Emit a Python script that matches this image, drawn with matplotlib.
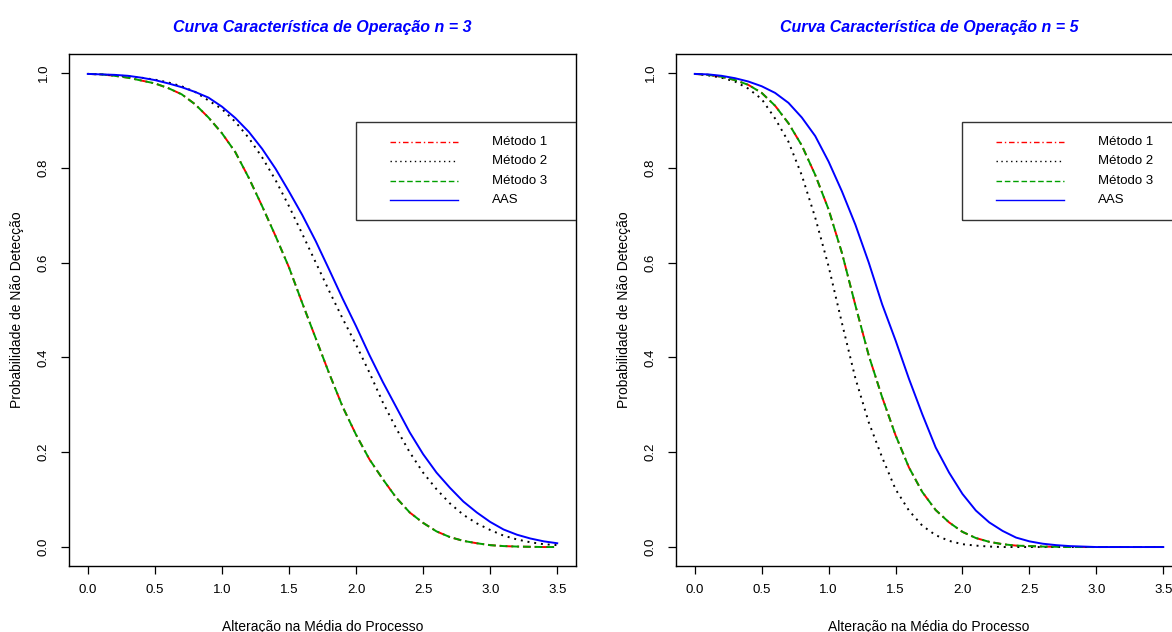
import matplotlib
matplotlib.use("Agg")
import matplotlib.pyplot as plt
from matplotlib.patches import Rectangle

plt.rcParams['font.family'] = ['Liberation Sans', 'DejaVu Sans']

# ---------------- data ----------------
x = [0.0, 0.1, 0.2, 0.3, 0.4, 0.5, 0.6, 0.7, 0.8, 0.9, 1.0, 1.1, 1.2, 1.3, 1.4, 1.5,
     1.6, 1.7, 1.8, 1.9, 2.0, 2.1, 2.2, 2.3, 2.4, 2.5, 2.6, 2.7, 2.8, 2.9, 3.0, 3.1,
     3.2, 3.3, 3.4, 3.5]

# n = 3
m1_n3 = [0.998, 0.997, 0.994, 0.990, 0.984, 0.978, 0.968, 0.955, 0.934, 0.906, 0.873, 0.833,
         0.779, 0.719, 0.656, 0.590, 0.514, 0.440, 0.366, 0.296, 0.237, 0.185, 0.143, 0.104,
         0.073, 0.051, 0.033, 0.021, 0.013, 0.008, 0.004, 0.002, 0.001, 0.0005, 0.0, 0.0]
m2_n3 = [0.998, 0.997, 0.995, 0.993, 0.990, 0.986, 0.980, 0.972, 0.960, 0.942, 0.924, 0.897,
         0.863, 0.822, 0.774, 0.719, 0.660, 0.600, 0.540, 0.482, 0.427, 0.368, 0.305, 0.250,
         0.200, 0.157, 0.122, 0.092, 0.068, 0.050, 0.036, 0.024, 0.016, 0.010, 0.006, 0.004]
m3_n3 = [0.998, 0.997, 0.994, 0.990, 0.984, 0.978, 0.968, 0.955, 0.934, 0.906, 0.873, 0.833,
         0.779, 0.719, 0.656, 0.590, 0.514, 0.440, 0.366, 0.296, 0.237, 0.185, 0.143, 0.104,
         0.073, 0.051, 0.033, 0.021, 0.013, 0.008, 0.004, 0.002, 0.001, 0.0005, 0.0, 0.0]
aas_n3 = [0.998, 0.997, 0.996, 0.994, 0.990, 0.985, 0.978, 0.970, 0.960, 0.948, 0.929, 0.905,
          0.876, 0.840, 0.798, 0.750, 0.700, 0.645, 0.585, 0.524, 0.466, 0.405, 0.348, 0.295,
          0.242, 0.196, 0.157, 0.125, 0.096, 0.073, 0.053, 0.037, 0.026, 0.018, 0.012, 0.008]

# n = 5
m1_n5 = [0.998, 0.996, 0.992, 0.985, 0.975, 0.958, 0.931, 0.894, 0.847, 0.785, 0.712, 0.620,
         0.510, 0.404, 0.316, 0.236, 0.168, 0.116, 0.078, 0.052, 0.032, 0.019, 0.011, 0.006,
         0.003, 0.002, 0.001, 0.0005, 0.0, 0.0, 0.0, 0.0, 0.0, 0.0, 0.0, 0.0]
m2_n5 = [0.998, 0.995, 0.990, 0.982, 0.967, 0.945, 0.904, 0.855, 0.784, 0.695, 0.592, 0.472,
         0.356, 0.263, 0.189, 0.122, 0.077, 0.045, 0.025, 0.013, 0.006, 0.003, 0.001, 0.0,
         0.0, 0.0, 0.0, 0.0, 0.0, 0.0, 0.0, 0.0, 0.0, 0.0, 0.0, 0.0]
m3_n5 = [0.998, 0.996, 0.992, 0.985, 0.975, 0.958, 0.931, 0.894, 0.847, 0.785, 0.712, 0.620,
         0.510, 0.404, 0.316, 0.236, 0.168, 0.116, 0.078, 0.052, 0.032, 0.019, 0.011, 0.006,
         0.003, 0.002, 0.001, 0.0005, 0.0, 0.0, 0.0, 0.0, 0.0, 0.0, 0.0, 0.0]
aas_n5 = [0.998, 0.997, 0.994, 0.989, 0.982, 0.972, 0.958, 0.937, 0.906, 0.867, 0.813, 0.750,
          0.680, 0.600, 0.512, 0.436, 0.355, 0.280, 0.210, 0.157, 0.112, 0.077, 0.052, 0.034,
          0.020, 0.012, 0.007, 0.004, 0.002, 0.001, 0.0, 0.0, 0.0, 0.0, 0.0, 0.0]

titles = ["Curva Característica de Operação n = 3", "Curva Característica de Operação n = 5"]
legend_labels = ["Método 1", "Método 2", "Método 3", "AAS"]
xticks = [0.0, 0.5, 1.0, 1.5, 2.0, 2.5, 3.0, 3.5]
yticks = [0.0, 0.2, 0.4, 0.6, 0.8, 1.0]
xlabel = "Alteração na Média do Processo"
ylabel = "Probabilidade de Não Detecção"

# ---------------- styles ----------------
colors = ['#FF0000', '#000000', '#00A000', '#0000FF']
dashes = [(4, 2, 1, 2), (1, 2.5), (4, 2), None]

W, H = 1172, 632
fig = plt.figure(figsize=(W / 100, H / 100), dpi=100)

def px_axes(l, r, t, b):
    return [l / W, (H - b) / H, (r - l) / W, (b - t) / H]

positions = [px_axes(69, 576, 54, 566), px_axes(676, 1182, 54, 566)]
data = [(m1_n3, m2_n3, m3_n3, aas_n3), (m1_n5, m2_n5, m3_n5, aas_n5)]

for k in range(2):
    ax = fig.add_axes(positions[k])
    series = data[k]
    for i in range(4):
        line, = ax.plot(x, series[i], color=colors[i], lw=1.4)
        if dashes[i] is not None:
            line.set_dashes(dashes[i])
    ax.set_xlim(-0.14, 3.64)
    ax.set_ylim(-0.04, 1.04)
    ax.set_xticks(xticks)
    ax.set_xticklabels([f"{v:.1f}" for v in xticks])
    ax.set_yticks(yticks)
    ax.set_yticklabels([f"{v:.1f}" for v in yticks], rotation=90, va='center')
    ax.tick_params(direction='out', length=6, width=0.9, labelsize=9.5, pad=7)
    ax.tick_params(axis='y', pad=8)
    for s in ax.spines.values():
        s.set_linewidth(1.0)
    ax.set_xlabel(xlabel, fontsize=10)
    ax.set_ylabel(ylabel, fontsize=10)
    ax.xaxis.set_label_coords(0.5, -0.106)
    ax.yaxis.set_label_coords(-0.088, 0.5)
    ax.text(0.5, 1.0508, titles[k], transform=ax.transAxes, ha='center', va='center',
            fontsize=11.5, fontweight='bold', fontstyle='italic', color='#0000FF')

    # legend box (R style, clipped at plot region)
    ax.add_patch(Rectangle((2.0, 0.690), 2.0, 0.207, fill=False, edgecolor='#333333',
                           lw=1.0, clip_on=True, zorder=5))
    ys = [0.854, 0.814, 0.772, 0.732]
    for i in range(4):
        l, = ax.plot([2.254, 2.761], [ys[i], ys[i]], color=colors[i], lw=1.0, zorder=6)
        if dashes[i] is not None:
            l.set_dashes(dashes[i])
        ax.text(3.015, ys[i], legend_labels[i], fontsize=9.5, ha='left', va='center', zorder=6)

fig.savefig("out.png", dpi=100)
